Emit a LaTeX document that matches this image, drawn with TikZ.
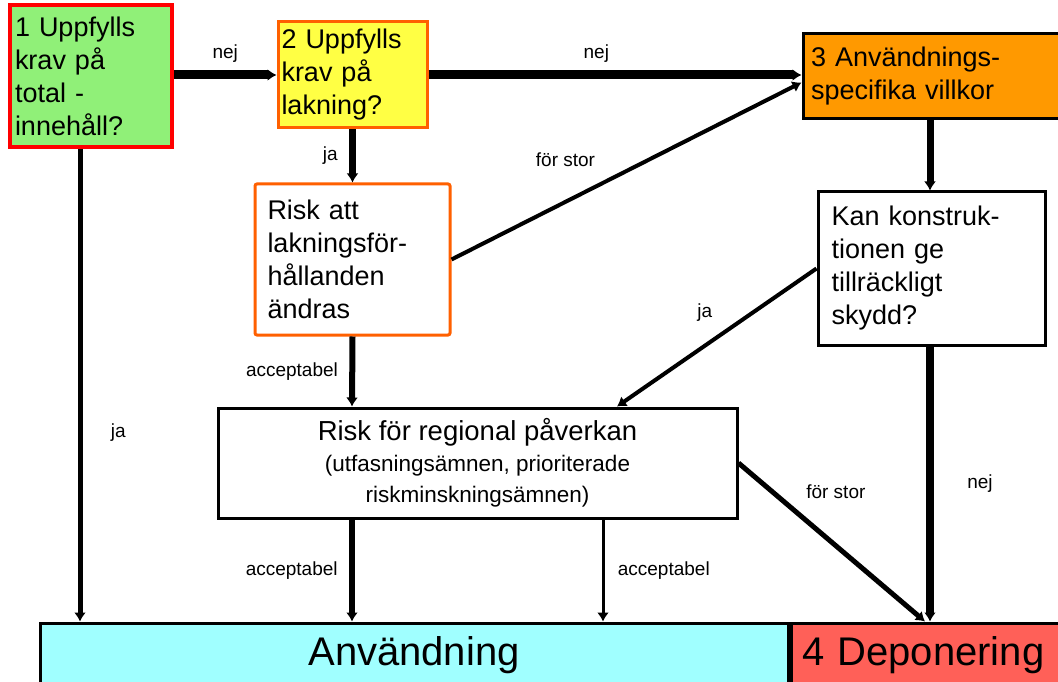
\documentclass[tikz,border=0pt]{standalone}
\usepackage{fontspec}
\setmainfont{Liberation Sans}
\usetikzlibrary{arrows.meta,calc}
\definecolor{cgreen}{HTML}{90F078}
\definecolor{cyellow}{HTML}{FFFF44}
\definecolor{corange}{HTML}{FF9900}
\definecolor{cbord}{HTML}{FF6000}
\definecolor{ccyan}{HTML}{A0FFFF}
\definecolor{cred}{HTML}{FF6058}
\begin{document}
\begin{tikzpicture}[x=1pt,y=-1pt,
  box/.style={draw=black,line width=3pt,inner sep=0pt,align=left},
  btext/.style={font=\fontsize{27}{33}\selectfont},
  lab/.style={font=\fontsize{19}{22}\selectfont},
  arr/.style={-{Latex[length=9pt,width=12pt]}},
]
\useasboundingbox (0,0) rectangle (1058,682);
\fill[white] (0,0) rectangle (1058,682);

\node[box,btext,fill=cgreen,draw=red,line width=4pt,minimum width=162pt,minimum height=142pt,text width=152pt] (b1) at (91,76) {1 Uppfylls\\krav på\\total -\\innehåll?};
\node[box,btext,fill=cyellow,draw=cbord,minimum width=149pt,minimum height=106pt,text width=142pt] (b2) at (352.5,75) {2 Uppfylls\\krav på\\lakning?};
\node[box,btext,fill=corange,minimum width=258pt,minimum height=85pt,text width=242pt] (b3) at (932,76.5) {3 Användnings-\\specifika villkor};
\node[box,btext,draw=cbord,rounded corners=2pt,minimum width=195pt,minimum height=151pt,text width=170pt] (risk) at (352.5,259.5) {Risk att\\lakningsför-\\hållanden\\ändras};
\node[box,btext,minimum width=227pt,minimum height=153pt,text width=200pt] (kan) at (931.5,268.5) {Kan konstruk-\\tionen ge\\tillräckligt\\skydd?};
\node[box,minimum width=519pt,minimum height=110pt,align=center,font=\fontsize{22.5}{31}\selectfont] (reg) at (477.5,463) {{\fontsize{27.5}{31}\selectfont Risk för regional påverkan}\\(utfasningsämnen, prioriterade\\riskminskningsämnen)};
\node[box,fill=ccyan,minimum width=748pt,minimum height=64pt,font=\fontsize{40}{44}\selectfont] (anv) at (414,655) {Användning};
\node[box,fill=cred,minimum width=272pt,minimum height=64pt,text width=250pt,font=\fontsize{40}{44}\selectfont] (dep) at (927,655) {4 Deponering};

\draw[arr,line width=9pt] (b1.east |- 0,75) -- (b2.west |- 0,75) node[lab,midway,above=5pt] {nej};
\draw[arr,line width=9pt] (b2.east |- 0,75) -- (b3.west |- 0,75) node[lab,pos=0.45,above=5pt] {nej};
\draw[arr,line width=4pt] (risk.east) -- ($(b3.west)+(0,6)$) node[lab,pos=0.38,xshift=-19pt,yshift=33pt] {för stor};
\draw[arr,line width=7pt] (b2.south) -- (risk.north) node[lab,midway,left=8pt] {ja};
\draw[arr,line width=7pt] (b3.south -| 930,0) -- (kan.north -| 930,0);
\draw[arr,line width=5pt] (b1.south -| 80,0) -- (anv.north -| 80,0) node[lab,pos=0.6,right=25pt] {ja};
\draw[arr,line width=6pt] (risk.south) -- (reg.north -| 352,0) node[lab,midway,left=8pt] {acceptabel};
\draw[arr,line width=4pt] (kan.west) -- (reg.north -| 617,0) node[lab,midway,xshift=-12pt,yshift=25pt] {ja};
\draw[arr,line width=8pt] (kan.south -| 930,0) -- (dep.north -| 930,0) node[lab,midway,right=30pt] {nej};
\draw[arr,line width=5pt] (reg.east) -- (dep.north -| 925,0) node[lab,pos=0.3,above right=6pt] {för stor};
\draw[arr,line width=6pt] (reg.south -| 352,0) -- (anv.north -| 352,0) node[lab,midway,left=8pt] {acceptabel};
\draw[arr,line width=3pt] (reg.south -| 603,0) -- (anv.north -| 603,0) node[lab,midway,right=10pt] {acceptabel};
\end{tikzpicture}
\end{document}
